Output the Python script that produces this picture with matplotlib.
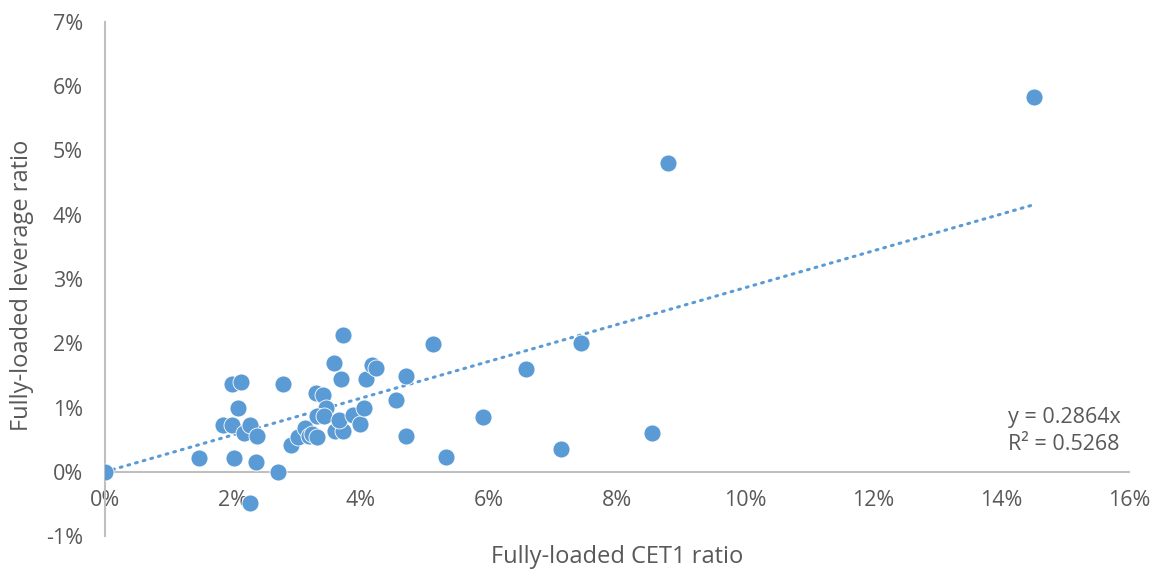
import matplotlib
matplotlib.use('Agg')
import matplotlib.pyplot as plt
from matplotlib.ticker import FuncFormatter, MultipleLocator

plt.rcParams['font.family'] = ['Open Sans', 'DejaVu Sans']

# values in percent
cet1 = [0.00, 1.47, 1.85, 1.99, 1.98, 2.12, 2.08, 2.02, 2.17, 2.26,
        2.26, 2.37, 2.36, 2.70, 2.78, 2.91, 3.01, 3.12, 3.19, 3.24,
        3.32, 3.29, 3.40, 3.46, 3.32, 3.42, 3.58, 3.60, 3.72, 3.66,
        3.69, 3.72, 3.88, 3.98, 4.05, 4.08, 4.17, 4.24, 4.55, 4.70,
        4.71, 5.12, 5.33, 5.91, 6.58, 7.13, 7.44, 8.55, 8.79, 14.51]
leverage = [0.00, 0.22, 0.73, 0.73, 1.36, 1.40, 0.99, 0.21, 0.61, 0.72,
            -0.48, 0.55, 0.15, -0.01, 1.37, 0.41, 0.54, 0.68, 0.56, 0.59,
            0.54, 1.22, 1.20, 1.00, 0.87, 0.86, 1.69, 0.64, 0.63, 0.80,
            1.45, 2.13, 0.89, 0.74, 1.00, 1.44, 1.66, 1.61, 1.12, 0.55,
            1.49, 1.99, 0.23, 0.85, 1.60, 0.35, 2.00, 0.61, 4.80, 5.84]

slope = 0.2864
r_squared = 0.5268

blue = '#5B9BD5'
grey_text = '#595959'
grey_line = '#BFBFBF'

fig = plt.figure(figsize=(11.58, 5.76), dpi=100)
ax = fig.add_axes([105 / 1158, 1 - 536 / 576, (1129 - 105) / 1158, (536 - 22) / 576])

ax.scatter(cet1, leverage, s=150, color=blue, edgecolors='white', linewidths=0.6, zorder=3)

# trendline through origin
x_end = max(cet1)
ax.plot([0, x_end], [0, slope * x_end], color=blue, lw=2.2,
        linestyle=(0, (0.6, 2.0)), dash_capstyle='round', zorder=2)

ax.set_xlim(0, 16)
ax.set_ylim(-1, 7)
ax.xaxis.set_major_locator(MultipleLocator(2))
ax.yaxis.set_major_locator(MultipleLocator(1))
pct = FuncFormatter(lambda v, _: f'{v:.0f}%')
ax.xaxis.set_major_formatter(pct)
ax.yaxis.set_major_formatter(pct)

for side in ['top', 'right']:
    ax.spines[side].set_visible(False)
ax.spines['bottom'].set_position(('data', 0))
ax.spines['left'].set_color(grey_line)
ax.spines['bottom'].set_color(grey_line)
ax.spines['left'].set_linewidth(1.5)
ax.spines['bottom'].set_linewidth(1.5)

ax.tick_params(axis='x', length=0, pad=13, labelsize=15.5, labelcolor=grey_text)
ax.tick_params(axis='y', length=0, pad=16, labelsize=15.5, labelcolor=grey_text)

fig.text(617 / 1158, 1 - 557 / 576, 'Fully-loaded CET1 ratio', ha='center', va='center',
         fontsize=17, color=grey_text)
fig.text(22 / 1158, 1 - 285 / 576, 'Fully-loaded leverage ratio', ha='center', va='center',
         rotation=90, fontsize=17, color=grey_text)

fig.text(1008 / 1158, 1 - 418 / 576, f'y = {slope}x', ha='left', va='center',
         fontsize=15.5, color=grey_text)
fig.text(1008 / 1158, 1 - 445 / 576, f'R² = {r_squared}', ha='left', va='center',
         fontsize=15.5, color=grey_text)

plt.savefig('out.png', dpi=100)
plt.close()
